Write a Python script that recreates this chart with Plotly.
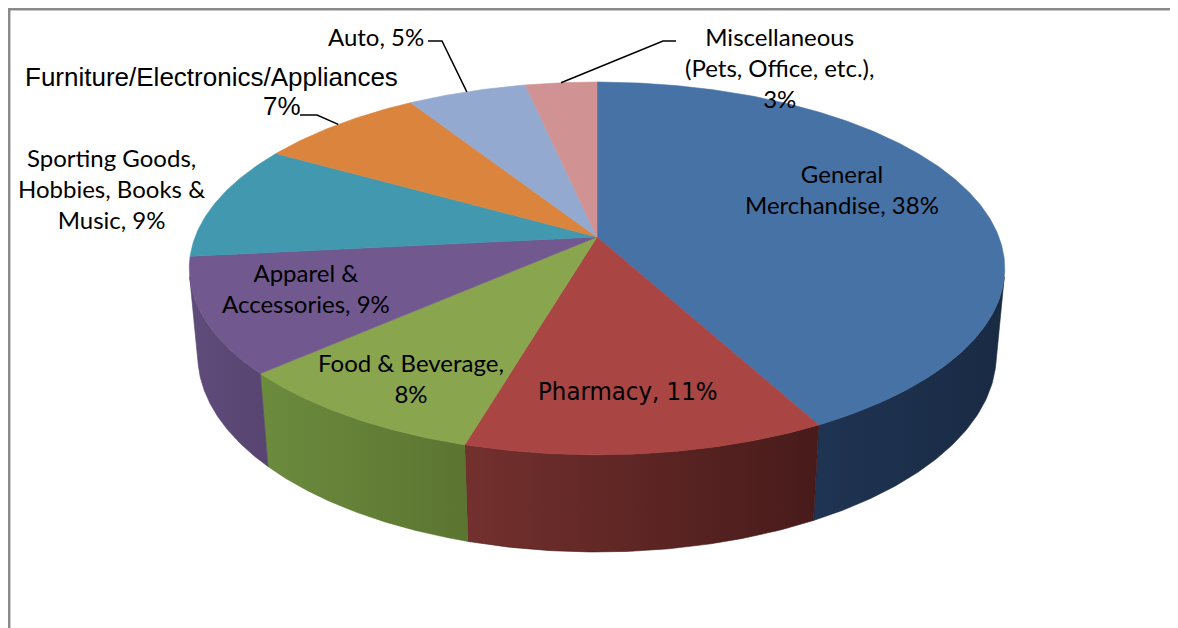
import numpy as np
import plotly.graph_objects as go

# ---------------- data ----------------
categories = ["General Merchandise", "Pharmacy", "Food & Beverage", "Apparel & Accessories",
              "Sporting Goods, Hobbies, Books & Music", "Furniture/Electronics/Appliances",
              "Auto", "Miscellaneous (Pets, Office, etc.)"]
values = [38, 11, 8, 9, 9, 7, 5, 3]
label_names = ["General<br>Merchandise", "Pharmacy", "Food & Beverage", "Apparel &<br>Accessories",
               "Sporting Goods,<br>Hobbies, Books &<br>Music", "Furniture/Electronics/Appliances",
               "Auto", "Miscellaneous<br>(Pets, Office, etc.)"]
label_seps = [", ", ", ", ",<br>", ", ", ", ", "<br>", ", ", ",<br>"]

# ---------------- style ----------------
top_colors = ["#4672a6", "#a94543", "#89a54e", "#71588f", "#4198af", "#db843d", "#93a9cf", "#d09292"]
wall_colors = [("#1f3453", "#192a43"), ("#73302e", "#471b1a"), ("#6c8b3d", "#5b7531"),
               ("#604c7b", "#574470"), ("#2f6f80", "#2a6272"), ("#a5612c", "#9a5a28"),
               ("#6e7f9b", "#66768f"), ("#9d6e6d", "#926665")]
CAL = "Lato, Open Sans, sans-serif"
ARIAL = "Liberation Sans, Arial, sans-serif"
NARROW = "DejaVu Sans Condensed, Liberation Sans Narrow, sans-serif"
label_style = [  # (x, y, font family, size) -- text block centres in reference pixel space
    (842, 189, CAL, 24), (628, 391, NARROW, 25.5), (411, 378, CAL, 24), (306, 288, CAL, 24),
    (111, 188, CAL, 24), (211, 77, ARIAL, 26), (376, 36, CAL, 24), (779, 67, CAL, 24)]
split_value = [False, False, False, False, False, True, False, False]
value_pos = {5: (282, 106)}
leader_elbows = {5: [(317, 115), (300, 115)], 6: [(442, 41), (428, 41)], 7: [(663, 41), (676, 41)]}

# projection of a tilted disc (perspective), reference pixel space
CX, CY = 597, 237
SCALE, DIST = 2126.0, 5.29
SIN_E, COS_E = 0.4506, 0.893
THICK = 0.243

# the page body has an 8px margin: the figure starts at (8, 8) in the window
OFF = 8
FIG_W, FIG_H = 1178 - OFF, 628 - OFF


def project(theta_deg, y3):
    t = np.radians(theta_deg)
    X, Z = np.cos(t), np.sin(t)
    w = DIST + Z * COS_E - y3 * SIN_E
    v = Z * SIN_E + y3 * COS_E
    return CX + SCALE * X / w, CY - SCALE * v / w


vals = np.array(values, dtype=float)
frac = vals / vals.sum()
ends = 90 - np.cumsum(frac) * 360
starts = np.concatenate([[90], ends[:-1]])

# visible wall range (outward normal faces the camera)
lim = np.degrees(np.arcsin(-1.0 / (DIST * COS_E)))  # about -12.2
vis_hi, vis_lo = lim, -180 - lim

fig = go.Figure()

# side walls
for i in range(len(values)):
    hi = min(starts[i], vis_hi)
    lo = max(ends[i], vis_lo)
    if hi <= lo:
        continue
    th = np.linspace(hi, lo, 80)
    tx, ty = project(th, 0.0)
    bx, by = project(th, -THICK)
    xs = np.concatenate([tx, bx[::-1], tx[:1]])
    ys = np.concatenate([ty, by[::-1], ty[:1]])
    c1, c2 = wall_colors[i]
    fig.add_trace(go.Scatter(
        x=xs, y=ys, mode="lines", fill="toself", line=dict(width=0.6, color=c2),
        fillgradient=dict(type="horizontal", colorscale=[[0, c1], [1, c2]]),
        hoverinfo="skip", showlegend=False))

# top faces
for i in range(len(values)):
    th = np.linspace(starts[i], ends[i], max(int(abs(starts[i] - ends[i]) * 2), 8))
    rx, ry = project(th, 0.0)
    xs = np.concatenate([[CX], rx, [CX]])
    ys = np.concatenate([[CY], ry, [CY]])
    fig.add_trace(go.Scatter(
        x=xs, y=ys, mode="lines", fill="toself", fillcolor=top_colors[i],
        line=dict(width=0.6, color=top_colors[i]), name=categories[i],
        hoverinfo="text", text=f"{categories[i]}: {values[i]}%", showlegend=False))

# leader lines
for i, elbows in leader_elbows.items():
    mid = (starts[i] + ends[i]) / 2
    px, py = project(mid, 0.0)
    xs = [float(px)] + [e[0] for e in elbows]
    ys = [float(py)] + [e[1] for e in elbows]
    fig.add_trace(go.Scatter(x=xs, y=ys, mode="lines", line=dict(color="black", width=1.5),
                             hoverinfo="skip", showlegend=False))

# labels
annotations = []
for i in range(len(values)):
    x, y, fam, size = label_style[i]
    if split_value[i]:
        annotations.append(dict(x=x, y=y, text=label_names[i], showarrow=False,
                                font=dict(family=fam, size=size, color="black")))
        vx, vy = value_pos[i]
        annotations.append(dict(x=vx, y=vy, text=f"{values[i]}%", showarrow=False,
                                font=dict(family=fam, size=size, color="black")))
    else:
        annotations.append(dict(x=x, y=y, text=f"{label_names[i]}{label_seps[i]}{values[i]}%",
                                showarrow=False, align="center",
                                font=dict(family=fam, size=size, color="black")))

fig.update_layout(
    width=FIG_W, height=FIG_H,
    margin=dict(l=0, r=0, t=0, b=0),
    paper_bgcolor="white", plot_bgcolor="white",
    xaxis=dict(range=[OFF, OFF + FIG_W], visible=False, fixedrange=True),
    yaxis=dict(range=[OFF + FIG_H, OFF], visible=False, fixedrange=True),
    annotations=annotations,
    shapes=[dict(type="rect", xref="paper", yref="paper",
                 x0=1.2 / FIG_W, x1=1.1, y0=1 - 1.2 / FIG_H, y1=-0.1,
                 line=dict(color="#8a8a8a", width=2.5), fillcolor="rgba(0,0,0,0)")],
)

fig.write_html("out.html", config={"displayModeBar": False})
